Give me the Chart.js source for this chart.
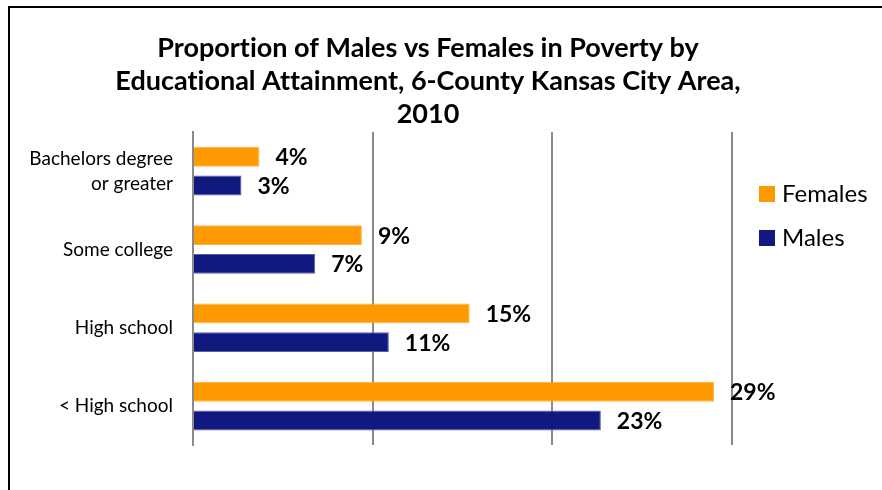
<!DOCTYPE html>
<html>
<head>
<meta charset="utf-8">
<script src="https://cdn.jsdelivr.net/npm/chart.js@4.4.1/dist/chart.umd.min.js"></script>
<style>
  html, body { margin: 0; padding: 0; background: #fff; overflow: hidden; }
  #wrap { position: relative; width: 882px; height: 490px; }
</style>
</head>
<body>
<div id="wrap"><canvas id="povertyChart" width="882" height="490"></canvas></div>
<script>
const categories = [["Bachelors degree", "or greater"], "Some college", "High school", "< High school"];
const females = [3.7, 9.4, 15.4, 29.0];
const males = [2.7, 6.8, 10.9, 22.7];
const seriesNames = ["Females", "Males"];
const titleLines = [
  "Proportion of Males vs Females in Poverty by",
  "Educational Attainment, 6-County Kansas City Area,",
  "2010"
];

const FONT = "Lato, 'Open Sans', sans-serif";

// frame, title, value labels and legend drawn by hand
const extras = {
  id: "extras",
  beforeDraw(chart) {
    const ctx = chart.ctx;
    ctx.save();
    ctx.strokeStyle = "#000";
    ctx.lineWidth = 2;
    ctx.strokeRect(9, 7, 1000, 1000);
    ctx.restore();
  },
  afterDatasetsDraw(chart) {
    const ctx = chart.ctx;
    ctx.save();
    ctx.fillStyle = "#000";
    ctx.font = "bold 23px " + FONT;
    ctx.textAlign = "left";
    ctx.textBaseline = "middle";
    chart.data.datasets.forEach((ds, i) => {
      chart.getDatasetMeta(i).data.forEach((bar, j) => {
        ctx.fillText(Math.round(ds.data[j]) + "%", bar.x + 16, bar.y + 1);
      });
    });
    ctx.restore();
  },
  afterDraw(chart) {
    const ctx = chart.ctx;
    ctx.save();
    if ("textRendering" in ctx) ctx.textRendering = "optimizeSpeed"; // no "ti" ligature
    // title
    ctx.fillStyle = "#000";
    ctx.font = "bold 27px " + FONT;
    ctx.textAlign = "center";
    ctx.textBaseline = "alphabetic";
    titleLines.forEach((t, i) => ctx.fillText(t, 428, 57 + i * 33));
    // legend
    ctx.font = "24px " + FONT;
    ctx.textAlign = "left";
    chart.data.datasets.forEach((ds, i) => {
      const y = 186 + i * 44;
      ctx.fillStyle = ds.backgroundColor;
      ctx.fillRect(759, y, 16, 16);
      ctx.fillStyle = "#000";
      ctx.fillText(ds.label, 782, y + 16);
    });
    ctx.restore();
  }
};

new Chart(document.getElementById("povertyChart"), {
  type: "bar",
  data: {
    labels: categories,
    datasets: [
      {
        label: seriesNames[0],
        data: females,
        backgroundColor: "#FF9900",
        borderColor: "#FFB040",
        borderWidth: 1
      },
      {
        label: seriesNames[1],
        data: males,
        backgroundColor: "#111880",
        borderColor: "#5A5EA6",
        borderWidth: 1
      }
    ]
  },
  options: {
    indexAxis: "y",
    responsive: false,
    animation: false,
    categoryPercentage: 0.734,
    barPercentage: 0.69,
    layout: { padding: { top: 132, bottom: 42, right: 150, left: 0 } },
    plugins: {
      legend: { display: false },
      title: { display: false },
      tooltip: { enabled: false }
    },
    scales: {
      x: {
        min: 0,
        max: 30,
        ticks: { display: false, stepSize: 10 },
        grid: { color: "#8a8a8a", lineWidth: 2, drawTicks: false },
        border: { display: false },
        afterFit(scale) { scale.height = 0; }
      },
      y: {
        grid: { display: false, drawTicks: false },
        border: { display: true, color: "#8a8a8a", width: 2 },
        ticks: {
          color: "#000",
          padding: 20,
          font: { family: FONT, size: 19, lineHeight: 1.3 }
        },
        afterFit(scale) { scale.width = 193; }
      }
    }
  },
  plugins: [extras]
});
</script>
</body>
</html>
